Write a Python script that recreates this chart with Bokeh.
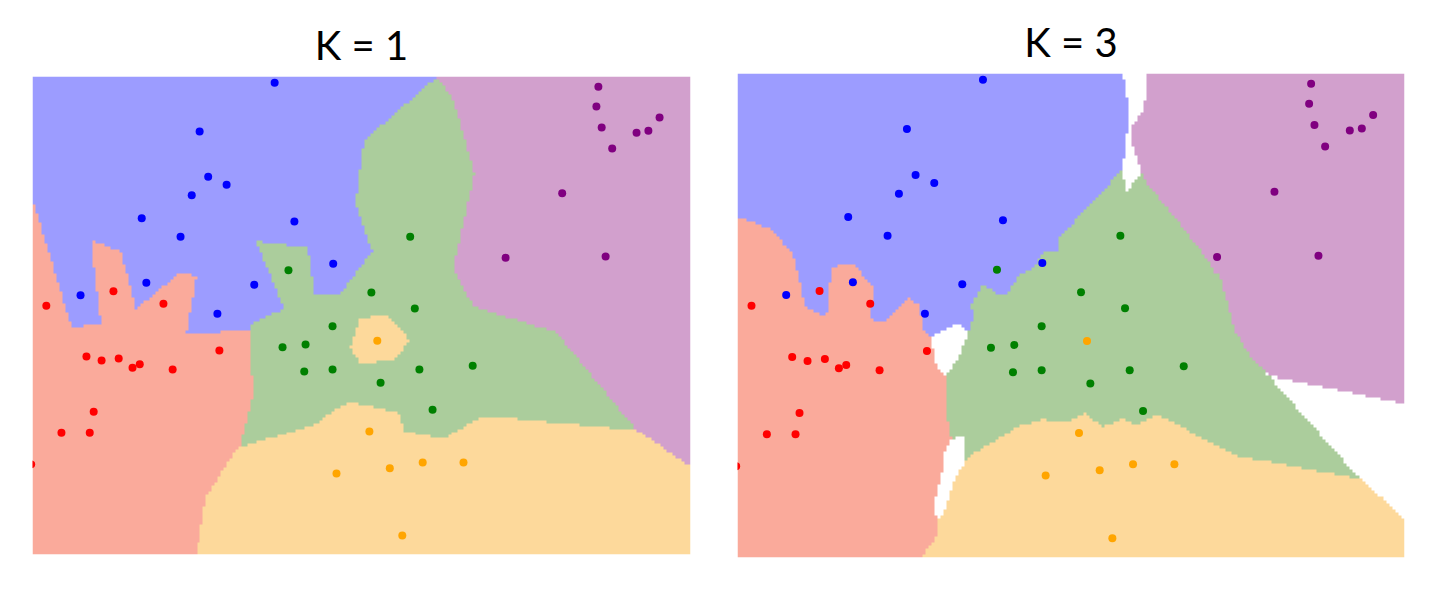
import numpy as np
from bokeh.plotting import figure
from bokeh.layouts import row, column
from bokeh.models import Range1d
from bokeh.embed import file_html
from bokeh.resources import INLINE

# ---- data ----
classes = ["blue", "red", "purple", "green", "orange"]

blue_x = [3.68, 2.54, 2.67, 2.95, 2.42, 1.66, 3.98, 2.25, 4.57, 1.73, 3.37, 0.73, 2.81]
blue_y = [7.17, 6.43, 5.74, 5.62, 5.46, 5.11, 5.06, 4.83, 4.42, 4.13, 4.10, 3.94, 3.66]

red_x = [1.23, 1.99, 0.21, 2.84, 0.82, 1.05, 1.31, 1.52, 1.63, 2.13, 0.93, 0.44, 0.87, -0.02]
red_y = [4.00, 3.81, 3.78, 3.10, 3.01, 2.95, 2.98, 2.84, 2.89, 2.81, 2.17, 1.85, 1.85, 1.37]

purple_x = [8.60, 8.57, 9.53, 8.65, 9.36, 9.18, 8.81, 8.05, 7.19, 8.71]
purple_y = [7.11, 6.81, 6.64, 6.49, 6.44, 6.41, 6.17, 5.49, 4.51, 4.53]

green_x = [3.89, 5.74, 5.15, 5.81, 4.56, 3.80, 4.15, 4.13, 4.56, 5.88, 6.69, 5.29, 6.08]
green_y = [4.32, 4.83, 3.98, 3.74, 3.47, 3.15, 3.19, 2.78, 2.81, 2.81, 2.87, 2.61, 2.20]

orange_x = [5.24, 5.12, 4.62, 5.43, 5.93, 6.55, 5.62]
orange_y = [3.25, 1.87, 1.23, 1.31, 1.40, 1.40, 0.29]

k_values = [1, 3]
titles = ["K = 1", "K = 3"]

# ---- styles ----
point_colors = ["#0000FF", "#FF0000", "#800080", "#008000", "#FFA500"]
region_colors = [(156, 156, 255), (250, 170, 155), (210, 160, 205), (171, 205, 156), (253, 217, 155)]

XMAX = 10.0
YMAX = 478 / 65.8

xs = [blue_x, red_x, purple_x, green_x, orange_x]
ys = [blue_y, red_y, purple_y, green_y, orange_y]
PX = np.concatenate([np.array(a, float) for a in xs])
PY = np.concatenate([np.array(a, float) for a in ys])
LAB = np.concatenate([np.full(len(a), i) for i, a in enumerate(xs)])

NX, NY = 220, 160
gx = (np.arange(NX) + 0.5) * XMAX / NX
gy = (np.arange(NY) + 0.5) * YMAX / NY
GX, GY = np.meshgrid(gx, gy)
D2 = (GX[..., None] - PX) ** 2 + (GY[..., None] - PY) ** 2
ORDER = np.argsort(D2, axis=-1)


def knn_image(k):
    lab = LAB[ORDER[..., :k]]
    counts = np.stack([(lab == c).sum(axis=-1) for c in range(len(classes))], axis=-1)
    best = counts.argmax(axis=-1)
    mx = counts.max(axis=-1)
    rgba = np.full((NY, NX, 4), 255, dtype=np.uint8)
    for c, col in enumerate(region_colors):
        m = (best == c) & (mx * 2 > k)
        rgba[m, 0] = col[0]
        rgba[m, 1] = col[1]
        rgba[m, 2] = col[2]
    return rgba.view(dtype=np.uint32).reshape(NY, NX)


def make_panel(k, title, fw, fh, top, left, right, bottom):
    p = figure(frame_width=fw, frame_height=fh, output_backend="svg", toolbar_location=None,
               x_range=Range1d(0, XMAX), y_range=Range1d(0, YMAX),
               min_border_left=left, min_border_right=right,
               min_border_top=top, min_border_bottom=bottom)
    p.title.text = title
    p.title.align = "center"
    p.title.text_font = "Lato"
    p.title.text_font_style = "normal"
    p.title.text_font_size = "40px"
    p.title.text_color = "black"
    p.title.standoff = 15
    p.axis.visible = False
    p.grid.visible = False
    p.outline_line_color = None
    p.background_fill_color = "white"
    p.image_rgba(image=[knn_image(k)], x=0, y=0, dw=XMAX, dh=YMAX)
    for c in range(len(classes)):
        p.scatter(xs[c], ys[c], size=8, fill_color=point_colors[c], line_color=None)
    return p


p1 = make_panel(k_values[0], titles[0], 658, 478, 76, 32, 23, 20)
p2 = make_panel(k_values[1], titles[1], 667, 484, 73, 24, 20, 17)

layout = row(column(p1), column(p2))
open("out.html", "w").write(file_html(layout, INLINE))
